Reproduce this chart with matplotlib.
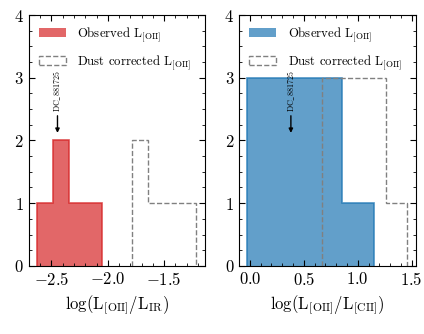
import numpy as np
import matplotlib
matplotlib.use('Agg')
import matplotlib.pyplot as plt
from matplotlib.ticker import MultipleLocator

plt.rcParams['font.family'] = 'serif'
plt.rcParams['font.serif'] = ['cmr10']
plt.rcParams['mathtext.fontset'] = 'cm'
plt.rcParams['axes.formatter.use_mathtext'] = True
plt.rcParams['axes.unicode_minus'] = True

# histogram data (bin edges + counts)
oir_edges = [-2.628, -2.4845, -2.341, -2.1975, -2.054]
oir_obs = [1, 2, 1, 1]
oir_dust_edges = [-1.789, -1.6455, -1.502, -1.3585, -1.215]
oir_dust = [2, 1, 1, 1]

ocii_edges = [-0.025, 0.269, 0.563, 0.857, 1.151]
ocii_obs = [3, 3, 3, 1]
ocii_dust_edges = [0.669, 0.867, 1.065, 1.262, 1.460]
ocii_dust = [3, 3, 3, 1]

src_name = r'$\mathrm{DC\_881725}$'
src_oir = -2.446
src_ocii = 0.38

fig = plt.figure(figsize=(4.24, 3.34), dpi=100)
ax1 = fig.add_axes([0.068, 0.204, 0.415, 0.751])
ax2 = fig.add_axes([0.564, 0.204, 0.417, 0.751])


def draw(ax, edges, counts, dedges, dcounts, color, src_x):
    edges = np.array(edges)
    dedges = np.array(dedges)
    ax.hist(edges[:-1], bins=edges, weights=counts, histtype='bar',
            color=color, alpha=0.7, label=r'Observed L$_{\rm [OII]}$')
    ax.hist(edges[:-1], bins=edges, weights=counts, histtype='step',
            color=color, alpha=0.8, lw=1.2)
    ax.hist(dedges[:-1], bins=dedges, weights=dcounts, histtype='step',
            color='gray', ls='--', lw=1.0, label=r'Dust corrected L$_{\rm [OII]}$')
    ax.annotate(src_name, xy=(src_x, 2.12), xytext=(src_x, 2.46),
                rotation=90, ha='center', va='bottom', fontsize=5.8,
                arrowprops=dict(arrowstyle='-|>', color='k', lw=1.0,
                                mutation_scale=6, shrinkA=1, shrinkB=0))
    ax.set_ylim(0, 4)
    ax.yaxis.set_major_locator(MultipleLocator(1))
    ax.yaxis.set_minor_locator(MultipleLocator(0.25))
    ax.xaxis.set_major_locator(MultipleLocator(0.5))
    ax.xaxis.set_minor_locator(MultipleLocator(0.1))
    ax.tick_params(which='both', direction='in', top=True, right=True, labelsize=12)
    ax.tick_params(which='major', length=4)
    ax.tick_params(which='minor', length=2)
    ax.legend(loc='upper left', frameon=False, fontsize=9.2,
              handlelength=2.1, handletextpad=0.9, borderaxespad=0.4,
              labelspacing=0.75)


draw(ax1, oir_edges, oir_obs, oir_dust_edges, oir_dust, 'C3', src_oir)
draw(ax2, ocii_edges, ocii_obs, ocii_dust_edges, ocii_dust, 'C0', src_ocii)

ax1.set_xlim(-2.70, -1.14)
ax2.set_xlim(-0.10, 1.54)
ax1.set_xlabel(r'$\log(\mathrm{L}_{\rm [OII]}/\mathrm{L}_{\rm IR})$', fontsize=12)
ax2.set_xlabel(r'$\log(\mathrm{L}_{\rm [OII]}/\mathrm{L}_{\rm [CII]})$', fontsize=12)

fig.savefig('out.png', dpi=100)
